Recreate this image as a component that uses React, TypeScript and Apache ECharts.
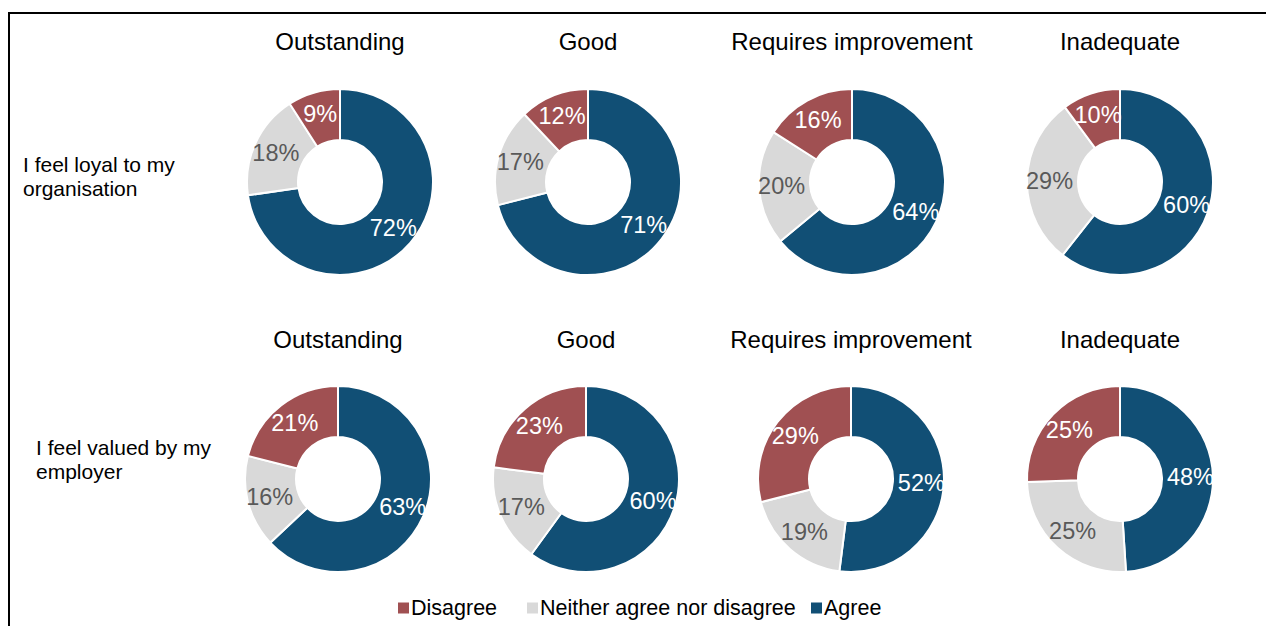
import React, { useEffect, useRef } from "react";
import * as echarts from "echarts";

const ratings = ["Outstanding", "Good", "Requires improvement", "Inadequate"];
const statements = ["I feel loyal to my\norganisation", "I feel valued by my\nemployer"];
const categories = ["Agree", "Neither agree nor disagree", "Disagree"];
const legendOrder = ["Disagree", "Neither agree nor disagree", "Agree"];

// [Agree, Neither, Disagree]
const loyalValues = [
  [72, 18, 9],
  [71, 17, 12],
  [64, 20, 16],
  [60, 29, 10],
];
const valuedValues = [
  [63, 16, 21],
  [60, 17, 23],
  [52, 19, 29],
  [48, 25, 25],
];

const COLORS: Record<string, string> = {
  Agree: "#114F75",
  "Neither agree nor disagree": "#D9D9D9",
  Disagree: "#A05052",
};
const LABEL_COLORS: Record<string, string> = {
  Agree: "#FFFFFF",
  "Neither agree nor disagree": "#595959",
  Disagree: "#FFFFFF",
};

const FONT = "'Liberation Sans', Arial, sans-serif";

export default function App() {
  const ref = useRef<HTMLDivElement>(null);
  useEffect(() => {
    if (!ref.current) return;
    const chart = echarts.init(ref.current, null, { renderer: "svg" });
    const rowCenters = [
      { y: 182, xs: [340, 588, 852, 1120], titleY: 41, labelX: 23, labelY: 152 },
      { y: 479, xs: [338, 586, 851, 1120], titleY: 339, labelX: 36, labelY: 435 },
    ];
    const rows = [loyalValues, valuedValues];
    const series: any[] = [];
    const graphic: any[] = [
      {
        type: "rect",
        shape: { x: 9, y: 13, width: 1300, height: 700 },
        style: { fill: "none", stroke: "#000", lineWidth: 2 },
        silent: true,
      },
    ];
    rows.forEach((vals, r) => {
      const rc = rowCenters[r];
      graphic.push({
        type: "text",
        x: rc.labelX,
        y: rc.labelY,
        style: {
          text: statements[r],
          font: `21px ${FONT}`,
          fill: "#000",
          lineHeight: 24,
        },
      });
      vals.forEach((v, i) => {
        graphic.push({
          type: "text",
          x: rc.xs[i],
          y: rc.titleY,
          style: {
            text: ratings[i],
            font: `24px ${FONT}`,
            fill: "#000",
            align: "center",
            verticalAlign: "middle",
          },
        });
        series.push({
          type: "pie",
          name: `${statements[r]} ${ratings[i]}`,
          center: [rc.xs[i], rc.y],
          radius: [42, 93],
          startAngle: 90,
          clockwise: true,
          avoidLabelOverlap: false,
          silent: true,
          itemStyle: { borderColor: "#fff", borderWidth: 2 },
          label: {
            show: true,
            position: "inside",
            formatter: "{c}%",
            fontSize: 23.5,
            fontFamily: FONT,
          },
          labelLine: { show: false },
          data: categories.map((c, k) => ({
            name: c,
            value: v[k],
            itemStyle: { color: COLORS[c] },
            label: { color: LABEL_COLORS[c] },
          })),
        });
      });
    });
    const legendLefts = [391, 520, 804];
    const legends = legendOrder.map((name, k) => ({
      data: [name],
      left: legendLefts[k],
      top: 592,
      icon: "rect",
      itemWidth: 13,
      itemHeight: 13,
      itemGap: 0,
      textStyle: { fontSize: 21.5, fontFamily: FONT, color: "#000", padding: [0, 0, 0, -4] },
    }));
    chart.setOption({
      animation: false,
      backgroundColor: "#fff",
      color: categories.map((c) => COLORS[c]),
      legend: legends,
      graphic,
      series,
    });
    return () => chart.dispose();
  }, []);
  return (
    <div
      ref={ref}
      style={{ position: "fixed", left: 0, top: 0, width: 1266, height: 626 }}
    />
  );
}
